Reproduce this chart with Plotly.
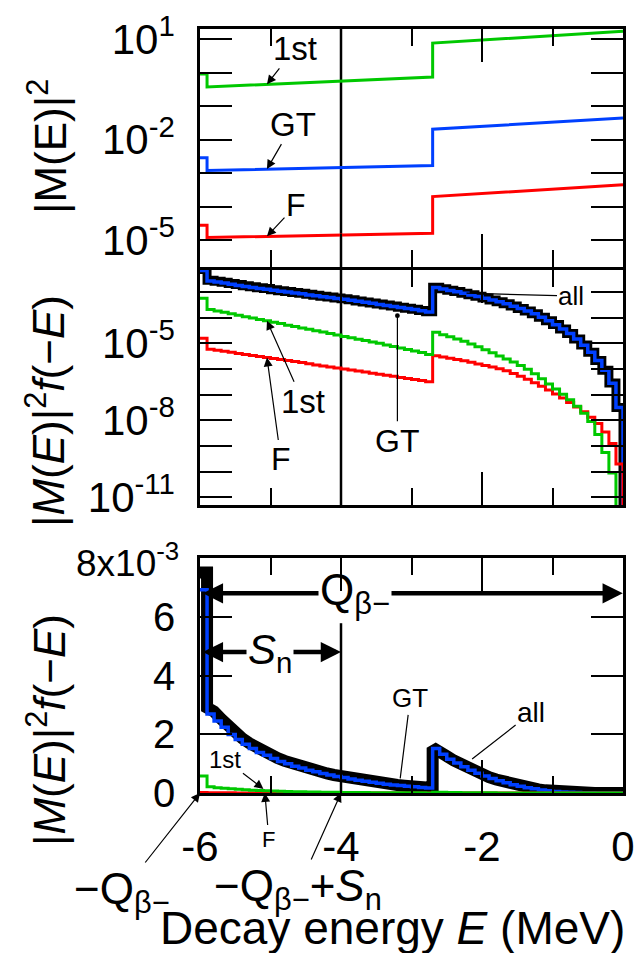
import numpy as np
import plotly.graph_objects as go

FONT = "Liberation Sans, Arial, sans-serif"
W, H = 635, 953

# ---- |M(E)|^2 (top panel): step at -5.9 MeV and at -2.7 MeV ----
E_M = [-6.0, -5.9, -5.9, -2.7, -2.7, 0.0]
m2_first = [0.91, 0.91, 0.37, 0.74, 7.6, 17.0]
m2_gt = [2.9e-3, 2.9e-3, 1.2e-3, 1.7e-3, 2.04e-2, 4.4e-2]
m2_f = [2.8e-5, 2.8e-5, 1.2e-5, 1.6e-5, 2.0e-4, 4.5e-4]

# ---- |M(E)|^2 f(-E) histogram, 0.1 MeV bins (edges) ----
E_EDGES = [-6.0, -5.9, -5.8, -5.7, -5.6, -5.5, -5.4, -5.3, -5.2, -5.1,
           -5.0, -4.9, -4.8, -4.7, -4.6, -4.5, -4.4, -4.3, -4.2, -4.1,
           -4.0, -3.9, -3.8, -3.7, -3.6, -3.5, -3.4, -3.3, -3.2, -3.1,
           -3.0, -2.9, -2.8, -2.7, -2.6, -2.5, -2.4, -2.3, -2.2, -2.1,
           -2.0, -1.9, -1.8, -1.7, -1.6, -1.5, -1.4, -1.3, -1.2, -1.1,
           -1.0, -0.9, -0.8, -0.7, -0.6, -0.5, -0.4, -0.3, -0.2, -0.1, 0.0]

# log10 of the bin contents, one value per bin (-6.0 ... -0.1)
gt_log10 = [-2.16, -2.57, -2.61, -2.65, -2.70, -2.74, -2.78, -2.82, -2.86, -2.89,
            -2.93, -2.97, -3.00, -3.04, -3.07, -3.11, -3.14, -3.18, -3.21, -3.25,
            -3.28, -3.32, -3.36, -3.40, -3.44, -3.48, -3.52, -3.56, -3.60, -3.64,
            -3.68, -3.73, -3.78, -2.82, -2.88, -2.94, -2.99, -3.05, -3.11, -3.17,
            -3.24, -3.31, -3.38, -3.46, -3.55, -3.64, -3.74, -3.85, -3.98, -4.12,
            -4.27, -4.44, -4.62, -4.83, -5.07, -5.35, -5.67, -6.05, -6.55, -7.50]
first_log10 = [-3.24, -3.68, -3.74, -3.79, -3.85, -3.90, -3.96, -4.01, -4.07, -4.12,
               -4.18, -4.23, -4.29, -4.34, -4.40, -4.45, -4.51, -4.56, -4.62, -4.67,
               -4.73, -4.78, -4.84, -4.89, -4.95, -5.00, -5.06, -5.12, -5.18, -5.24,
               -5.30, -5.36, -5.43, -4.57, -4.66, -4.74, -4.83, -4.92, -5.02, -5.13,
               -5.25, -5.37, -5.49, -5.61, -5.73, -5.86, -6.01, -6.18, -6.38, -6.58,
               -6.78, -6.98, -7.20, -7.45, -7.72, -8.05, -8.55, -9.25, -10.05, -13.0]
f_log10 = [-4.80, -5.23, -5.27, -5.31, -5.35, -5.39, -5.43, -5.47, -5.51, -5.55,
           -5.59, -5.63, -5.67, -5.71, -5.75, -5.79, -5.84, -5.88, -5.92, -5.96,
           -6.00, -6.04, -6.08, -6.12, -6.16, -6.20, -6.24, -6.28, -6.33, -6.37,
           -6.41, -6.45, -6.50, -5.48, -5.53, -5.58, -5.63, -5.68, -5.74, -5.80,
           -5.86, -5.92, -5.99, -6.07, -6.17, -6.28, -6.40, -6.53, -6.67, -6.82,
           -6.97, -7.13, -7.30, -7.48, -7.67, -7.88, -8.12, -8.45, -8.90, -9.70]

END_VALUE = 1e-14  # spectrum vanishes at the endpoint E = 0

gt = 10.0 ** np.array(gt_log10)
first = 10.0 ** np.array(first_log10)
ff = 10.0 ** np.array(f_log10)
total = gt + first + ff


def steps(v):
    # value of each bin, plus the endpoint drop at E = 0
    return list(v) + [END_VALUE]


def outline(v):
    # Histogram outline for the thick "all" curve: vertical edges are kept at
    # rises and large drops; small drops are crossed through the middle of
    # the riser so the thick line follows the staircase smoothly.
    xs, ys = [E_EDGES[0]], [v[0]]
    n = len(v)
    for i in range(n - 1):
        xe = E_EDGES[i + 1]
        if v[i + 1] > v[i] or v[i + 1] < 0.6 * v[i]:
            xs += [xe, xe]
            ys += [v[i], v[i + 1]]
        else:
            xs.append(xe)
            ys.append(0.5 * (v[i] + v[i + 1]))
    xs += [E_EDGES[-1], E_EDGES[-1]]
    ys += [v[-1], END_VALUE]
    return xs, ys


GREEN, BLUE, RED = "#00c800", "#0040ff", "#ff0000"

fig = go.Figure()

# top panel
for y, c in [(m2_first, GREEN), (m2_gt, BLUE), (m2_f, RED)]:
    fig.add_trace(go.Scatter(x=E_M, y=y, mode="lines", line=dict(color=c, width=3),
                             xaxis="x", yaxis="y", showlegend=False, hoverinfo="skip"))

# middle (log) and bottom (linear) panels
ox, oy = outline(total)
for xa, ya in [("x2", "y2"), ("x3", "y3")]:
    if xa == "x2":
        fig.add_trace(go.Scatter(x=E_EDGES, y=steps(total), mode="lines", line_shape="hv",
                                 line=dict(color="black", width=9),
                                 xaxis=xa, yaxis=ya, showlegend=False, hoverinfo="skip"))
    else:
        fig.add_trace(go.Scatter(x=ox, y=oy, mode="lines",
                                 line=dict(color="black", width=12),
                                 xaxis=xa, yaxis=ya, showlegend=False, hoverinfo="skip"))
    fig.add_trace(go.Scatter(x=E_EDGES, y=steps(gt), mode="lines", line_shape="hv",
                             line=dict(color=BLUE, width=3.5),
                             xaxis=xa, yaxis=ya, showlegend=False, hoverinfo="skip"))
    fig.add_trace(go.Scatter(x=E_EDGES, y=steps(ff), mode="lines", line_shape="hv",
                             line=dict(color=RED, width=3),
                             xaxis=xa, yaxis=ya, showlegend=False, hoverinfo="skip"))
    fig.add_trace(go.Scatter(x=E_EDGES, y=steps(first), mode="lines", line_shape="hv",
                             line=dict(color=GREEN, width=3),
                             xaxis=xa, yaxis=ya, showlegend=False, hoverinfo="skip"))

X_DOM = [200 / W, 623 / W]


def ydom(top, bottom):
    return [1 - bottom / H, 1 - top / H]


xcommon = dict(range=[-6, 0], tickvals=[-6, -4, -2, 0], ticktext=["-6", "-4", "-2", "0"],
               ticks="inside", ticklen=33, tickwidth=2, tickcolor="black",
               minor=dict(tickvals=[-5, -3, -1], ticks="inside", ticklen=17,
                          tickwidth=2, tickcolor="black"),
               showline=True, linecolor="black", linewidth=2.5, mirror="ticks",
               showgrid=False, zeroline=False, domain=X_DOM, automargin=False,
               tickfont=dict(family=FONT, size=42, color="black"))
ycommon = dict(ticks="inside", ticklen=32, tickwidth=2, tickcolor="black",
               showline=True, linecolor="black", linewidth=2.5, mirror="ticks",
               showgrid=False, zeroline=False, ticklabelstandoff=14, automargin=False,
               tickfont=dict(family=FONT, size=42, color="black"))

y1_vals = [10.0 ** k for k in range(1, -6, -1)]
y1_text = ["10<sup>1</sup>", "", "", "10<sup>-2</sup>", "", "", "10<sup>-5</sup>"]
y2_vals = [10.0 ** k for k in range(-3, -12, -1)]
y2_text = ["", "", "10<sup>-5</sup>", "", "", "10<sup>-8</sup>", "", "", "10<sup>-11</sup>"]
y3_vals = [0, 2e-3, 4e-3, 6e-3, 8e-3]
y3_text = ["0", "2", "4", "6", ""]

fig.update_layout(
    width=W, height=H, margin=dict(l=0, r=0, t=0, b=0, autoexpand=False),
    paper_bgcolor="white", plot_bgcolor="white",
    font=dict(family=FONT, color="black"),
    xaxis=dict(xcommon, anchor="y", showticklabels=False),
    xaxis2=dict(xcommon, anchor="y2", showticklabels=False),
    xaxis3=dict(xcommon, anchor="y3", showticklabels=True, ticklabelstandoff=15),
    yaxis=dict(ycommon, anchor="x", type="log", range=[-5.8, 1.3],
               tickvals=y1_vals, ticktext=y1_text, domain=ydom(29, 267)),
    yaxis2=dict(ycommon, anchor="x2", type="log", range=[-11.3, -2.14],
                tickvals=y2_vals, ticktext=y2_text, domain=ydom(270, 505)),
    yaxis3=dict(ycommon, anchor="x3", range=[0, 8e-3],
                tickvals=y3_vals, ticktext=y3_text, domain=ydom(558, 793),
                tickfont=dict(family=FONT, size=40, color="black")),
)

# S_n threshold line at E = -4 MeV
fig.add_shape(type="line", xref="x", yref="y domain", x0=-4, x1=-4, y0=0, y1=1,
              line=dict(color="black", width=2.5), layer="below")
fig.add_shape(type="line", xref="x2", yref="y2 domain", x0=-4, x1=-4, y0=0, y1=1,
              line=dict(color="black", width=2.5), layer="below")
fig.add_shape(type="line", xref="x3", yref="y3", x0=-4, x1=-4, y0=0, y1=5.78e-3,
              line=dict(color="black", width=2.5), layer="below")

ann = []


def label(text, x, y, xr, yr, ax, ay, size, head=2, asize=1.5, awidth=1.2):
    ann.append(dict(text=text, x=x, y=y, xref=xr, yref=yr, ax=ax, ay=ay,
                    showarrow=True, arrowhead=head, arrowsize=asize, arrowwidth=awidth,
                    arrowcolor="black", font=dict(family=FONT, size=size, color="black")))


# top panel labels (log axis: y in log10 units)
label("1st", -5.05, -0.35, "x", "y", 28, -36, 33)
label("GT", -5.05, -2.88, "x", "y", 26, -45, 33)
label("F", -5.05, -4.885, "x", "y", 29, -31, 32)

# middle panel labels
label("all", -2.22, -3.04, "x2", "y2", 105, 3, 26, head=0)
label("GT", -3.2, -3.92, "x2", "y2", 0, 125, 32, head=6, asize=1.0)
label("1st", -5.05, -4.12, "x2", "y2", 36, 81, 33)
label("F", -5.05, -5.55, "x2", "y2", 14, 102, 32)

# bottom panel labels
label("GT", -3.16, 5e-4, "x3", "y3", 10, -80, 26, head=0)
label("all", -2.14, 1.16e-3, "x3", "y3", 59, -46, 28, head=0)
label("1st", -5.1, 1.4e-4, "x3", "y3", -38, -29, 24)
label("F", -5.08, 0, "x3", "y3", 4, 46, 22)
label("\u2212Q<sub>\u03b2\u2212</sub>", -6.0, 0, "x3", "y3", -78, 99, 44)
label("\u2212Q<sub>\u03b2\u2212</sub>+<i>S</i><sub>n</sub>", -4.0, 0, "x3", "y3", -43, 96, 44)

# Q_beta- and S_n double arrows
QTXT = "Q<sub>\u03b2\u2212</sub>"
STXT = "<i>S</i><sub>n</sub>"
for txt, y, xl, xr_, xc, size in [(QTXT, 6.8e-3, -5.96, -0.003, 355, 44),
                                  (STXT, 4.8e-3, -5.96, -4.0, 270, 42)]:
    pl = 200 + (xl + 6) * 70.5
    pr = 200 + (xr_ + 6) * 70.5
    for tip, px, vis in [(xl, pl, "black"), (xr_, pr, "rgba(0,0,0,0)")]:
        ann.append(dict(text=txt, x=tip, y=y, xref="x3", yref="y3", ax=xc - px, ay=0,
                        showarrow=True, arrowhead=2, arrowsize=0.9, arrowwidth=4.5,
                        arrowcolor="black",
                        font=dict(family=FONT, size=size, color=vis)))

# axis titles
for txt, cx, cy in [("|M(E)|<sup>2</sup>", 47, 147),
                    ("|<i>M</i>(<i>E</i>)|<sup>2</sup><i>f</i>(\u2212<i>E</i>)", 46, 411),
                    ("|<i>M</i>(<i>E</i>)|<sup>2</sup><i>f</i>(\u2212<i>E</i>)", 46, 730)]:
    ann.append(dict(text=txt, x=cx / W, y=1 - cy / H, xref="paper", yref="paper",
                    showarrow=False, textangle=-90, xanchor="center", yanchor="middle",
                    font=dict(family=FONT, size=44, color="black")))

ann.append(dict(text="Decay energy <i>E</i> (MeV)", x=392 / W, y=1 - 928 / H,
                xref="paper", yref="paper", showarrow=False, xanchor="center",
                yanchor="middle", font=dict(family=FONT, size=46, color="black")))

# top label of the linear axis
ann.append(dict(text="8x10<sup>-3</sup>", x=181 / W, y=1 - 560 / H, xref="paper",
                yref="paper", showarrow=False, xanchor="right", yanchor="middle",
                font=dict(family=FONT, size=37, color="black")))

fig.update_layout(annotations=ann)
fig.write_html("out.html")
